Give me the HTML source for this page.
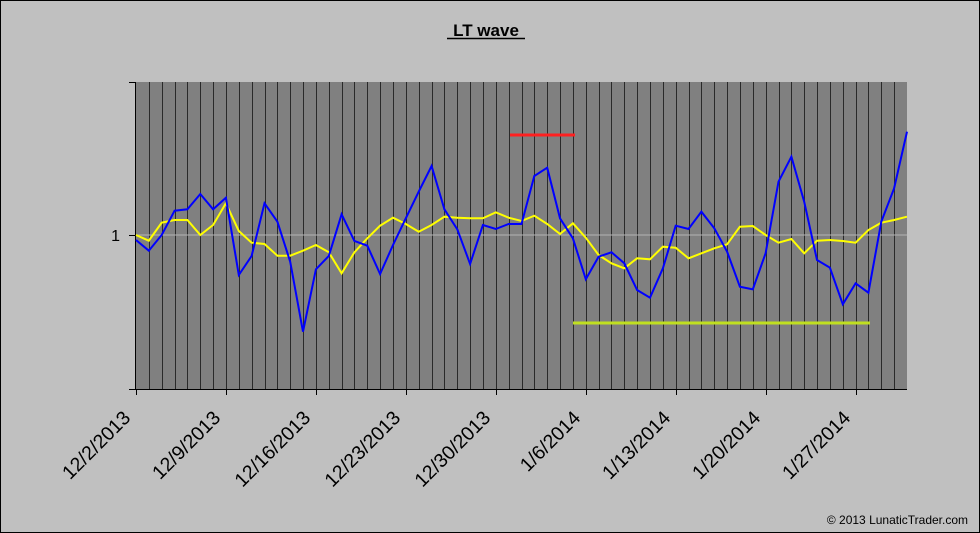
<!DOCTYPE html>
<html><head><meta charset="utf-8"><style>
html,body{margin:0;padding:0;background:#c0c0c0;}
svg{display:block;}
</style></head><body>
<svg width="980" height="533" xmlns="http://www.w3.org/2000/svg" font-family="Liberation Sans, Arial, sans-serif">
<rect x="0.5" y="0.5" width="979" height="532" fill="#c0c0c0" stroke="#000" stroke-width="1"/>
<text x="486" y="36" text-anchor="middle" font-size="17" font-weight="bold">LT wave</text>
<line x1="447" y1="38.5" x2="525" y2="38.5" stroke="#000" stroke-width="1.5"/>
<rect x="136" y="82" width="771" height="307" fill="#808080"/>
<g id="grid" stroke="#2a2a2a" stroke-width="1"></g>
<line x1="136" y1="235" x2="907" y2="235" stroke="#b4b4b4" stroke-width="1"/>
<line x1="135.5" y1="82" x2="135.5" y2="389" stroke="#000"/>
<line x1="136" y1="389.5" x2="907" y2="389.5" stroke="#000"/>
<g stroke="#000"><line x1="129" y1="82.5" x2="136" y2="82.5"/><line x1="129" y1="235.5" x2="136" y2="235.5"/><line x1="129" y1="389.5" x2="136" y2="389.5"/></g>
<text x="120" y="241" text-anchor="end" font-size="16">1</text>
<g id="ticks" stroke="#000"></g>
<g id="labels" font-size="19.5"></g>
<line x1="510" y1="135" x2="575" y2="135" stroke="#ff2020" stroke-width="3"/>
<line x1="573" y1="323" x2="870" y2="323" stroke="#c0e020" stroke-width="3"/>
<polyline id="yl" fill="none" stroke="#ffff00" stroke-width="2"/>
<polyline id="bl" fill="none" stroke="#0000ff" stroke-width="2"/>
<text x="968" y="524" text-anchor="end" font-size="12">© 2013 LunaticTrader.com</text>
</svg>
<script>
var ns="http://www.w3.org/2000/svg",dx=12.85;
var g=document.getElementById('grid');
for(var k=1;k<60;k++){var l=document.createElementNS(ns,'line');var x=Math.round(136+dx*k)+0.5;l.setAttribute('x1',x);l.setAttribute('x2',x);l.setAttribute('y1',82);l.setAttribute('y2',389);g.appendChild(l);}
var t=document.getElementById('ticks'),lb=document.getElementById('labels');
var names=["12/2/2013","12/9/2013","12/16/2013","12/23/2013","12/30/2013","1/6/2014","1/13/2014","1/20/2014","1/27/2014"];
for(var i=0;i<9;i++){var x=Math.round(136+90*i)+0.5;var l=document.createElementNS(ns,'line');l.setAttribute('x1',x);l.setAttribute('x2',x);l.setAttribute('y1',389);l.setAttribute('y2',395);t.appendChild(l);
var tx=document.createElementNS(ns,'text');var ax=x-5,ay=419;tx.setAttribute('x',ax);tx.setAttribute('y',ay);tx.setAttribute('text-anchor','end');tx.setAttribute('transform','rotate(-45 '+ax+' '+ay+')');tx.textContent=names[i];lb.appendChild(tx);}
var B=[240,250.7,235,210.7,209.3,194,209.3,197.7,275,256,203.3,221.7,261.7,331.7,269.3,256,214.3,241,245.7,274,245,218.3,191.7,166,209.3,229.3,264,225,229,224,224,176,167.7,218.3,238.3,279.3,256.7,252.3,263.3,290,297.7,268.3,225.7,229,211.7,228.3,251.7,286.7,289.3,253.3,181.7,156.7,201.7,260,267.7,304.3,283.3,292.7,221.7,188.3,131.7];
var Y=[235,240.7,222.7,220,220,235,225,203.3,231,242.7,244,255.7,255.7,250.7,245,252.3,273.3,252.3,238.3,225.7,217.7,224,231.7,225,216.7,217.7,218.3,218.3,212.3,217.7,221,215.7,224,234,223.3,237.7,255,263.3,268.3,258.3,259.3,246.7,247.7,258.3,253.3,248.3,244.3,226.7,226,235,242.7,239,253.3,240.7,240,241,242.7,230,222.7,220,216.7];
function pts(a){return a.map(function(v,k){return (136+dx*k).toFixed(1)+','+v}).join(' ');}
document.getElementById('bl').setAttribute('points',pts(B));
document.getElementById('yl').setAttribute('points',pts(Y));
</script>
</body></html>
